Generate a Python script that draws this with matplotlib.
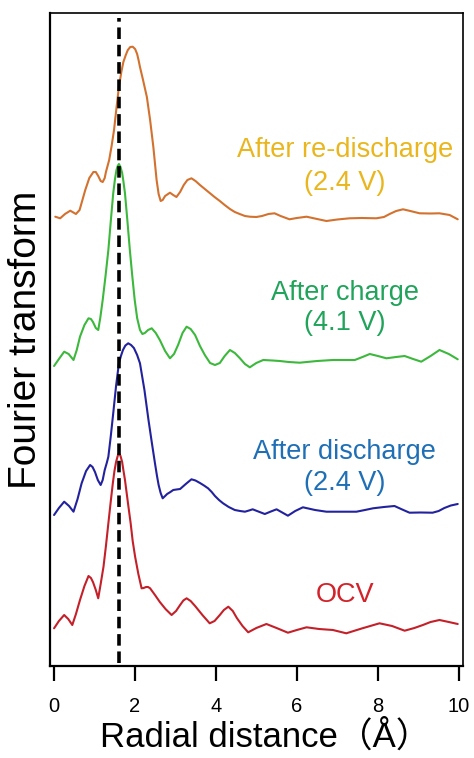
import matplotlib
matplotlib.use("Agg")
import matplotlib.pyplot as plt

plt.rcParams['font.family'] = ['Liberation Sans', 'Noto Sans CJK JP', 'DejaVu Sans']

# ---- data (r in Angstrom, intensity in arbitrary units incl. vertical offset) ----
r_redis = [0.04, 0.16, 0.28, 0.41, 0.55, 0.64, 0.78, 0.88, 0.98, 1.04, 1.10, 1.16, 1.21, 1.26,
           1.29, 1.33, 1.37, 1.43, 1.49, 1.55, 1.61, 1.67, 1.72, 1.78, 1.83, 1.89, 1.95, 2.01,
           2.06, 2.10, 2.13, 2.20, 2.30, 2.38, 2.46, 2.54, 2.59, 2.64, 2.69, 2.75, 2.87, 2.95,
           3.03, 3.12, 3.21, 3.30, 3.40, 3.50, 3.61, 3.73, 3.85, 3.97, 4.10, 4.22, 4.35, 4.47,
           4.59, 4.72, 4.84, 5.00, 5.14, 5.30, 5.45, 5.60, 5.82, 6.00, 6.24, 6.50, 6.73, 7.00,
           7.30, 7.60, 7.96, 8.15, 8.29, 8.45, 8.62, 8.80, 9.03, 9.30, 9.52, 9.77, 9.97]
y_redis = [449.3, 447.7, 452, 455.3, 452, 456, 476, 488, 494, 494, 490, 485, 484, 488,
           494, 500, 506, 520, 536, 558, 579, 594, 604, 611, 616, 619, 619.3, 617,
           612, 605, 599, 587, 569, 546, 519, 486, 472, 465, 466, 470, 473.3, 471,
           469, 474, 481, 486, 487.7, 485, 481, 477, 473, 469, 465, 461, 457, 454,
           452, 450, 449.3, 449, 450, 452, 452.7, 450, 446.7, 448, 449.3, 447, 445, 446.5,
           447.7, 448, 447.7, 449, 452, 455, 456.7, 455, 452.7, 452.5, 452.7, 451, 446.7]

r_charge = [0.01, 0.13, 0.26, 0.37, 0.49, 0.57, 0.65, 0.76, 0.86, 0.92, 0.97, 1.04, 1.10, 1.15,
            1.21, 1.28, 1.35, 1.41, 1.47, 1.51, 1.55, 1.58, 1.61, 1.65, 1.69, 1.72, 1.76, 1.82,
            1.88, 1.94, 2.00, 2.06, 2.13, 2.19, 2.25, 2.33, 2.42, 2.52, 2.62, 2.75, 2.87, 2.97,
            3.07, 3.18, 3.28, 3.38, 3.49, 3.61, 3.73, 3.86, 3.98, 4.10, 4.22, 4.35, 4.47, 4.59,
            4.72, 4.84, 5.00, 5.17, 5.40, 5.58, 5.80, 6.07, 6.50, 6.89, 7.20, 7.43, 7.62, 7.80,
            8.00, 8.21, 8.45, 8.66, 8.87, 9.07, 9.30, 9.52, 9.75, 9.97]
y_charge = [300, 307, 314.3, 312, 306, 316, 329.3, 341, 347.7, 347, 344, 338, 336, 348,
            366, 390, 416, 445, 472.7, 486, 496, 500, 502, 499, 493, 485, 472.7, 445,
            416, 390, 366, 348, 336, 332, 333, 336, 337.7, 333, 326, 315, 307.7, 312,
            321, 333, 339.3, 337, 331, 320, 311, 303, 301, 303, 310, 316, 313, 308,
            302, 298.7, 303, 306, 305.5, 305, 304, 303.3, 305, 306, 306, 306, 309, 312,
            310, 307.7, 309, 310, 307, 304.3, 310, 316, 312, 306.7]

r_dis = [0.01, 0.13, 0.26, 0.38, 0.49, 0.59, 0.69, 0.80, 0.90, 0.96, 1.02, 1.09, 1.16, 1.21,
         1.26, 1.31, 1.35, 1.41, 1.47, 1.54, 1.61, 1.66, 1.71, 1.77, 1.84, 1.91, 1.98, 2.06,
         2.13, 2.24, 2.34, 2.42, 2.50, 2.55, 2.59, 2.64, 2.69, 2.75, 2.80, 2.88, 2.95, 3.03,
         3.12, 3.26, 3.40, 3.50, 3.61, 3.71, 3.81, 3.90, 3.98, 4.08, 4.18, 4.32, 4.47, 4.60,
         4.72, 4.82, 4.91, 5.05, 5.21, 5.36, 5.50, 5.64, 5.78, 5.96, 6.15, 6.45, 6.73, 7.10,
         7.47, 7.68, 7.88, 8.15, 8.41, 8.60, 8.78, 9.05, 9.35, 9.50, 9.64, 9.80, 9.97]
y_dis = [151, 158, 164.3, 160, 154.3, 167, 182.7, 195, 201, 199, 194, 186, 181, 186,
         196, 203, 209.3, 230, 252.7, 280, 302.7, 310, 316, 320.5, 322.7, 321, 318, 311,
         302.7, 276, 246, 224, 202.7, 190, 181, 173, 167.7, 170, 172, 174, 176, 176.5,
         177, 182, 186.7, 185.5, 183, 180.5, 177.7, 174, 170, 166, 162.7, 159, 156, 155,
         154.3, 155.5, 156.7, 154.5, 152, 154.5, 156.7, 153.5, 150.3, 155, 158.7, 156, 154.3, 154.3,
         154.3, 156, 157.7, 159, 160, 156.5, 153.3, 153.5, 153.3, 155, 158, 160.5, 162]

r_ocv = [0.01, 0.13, 0.26, 0.36, 0.46, 0.55, 0.65, 0.76, 0.86, 0.92, 0.97, 1.04, 1.10, 1.16,
         1.23, 1.29, 1.35, 1.41, 1.46, 1.50, 1.54, 1.58, 1.61, 1.65, 1.69, 1.72, 1.76, 1.83,
         1.90, 1.95, 2.01, 2.09, 2.17, 2.22, 2.28, 2.33, 2.38, 2.50, 2.62, 2.76, 2.91, 3.02,
         3.12, 3.20, 3.28, 3.38, 3.49, 3.67, 3.85, 3.97, 4.10, 4.20, 4.31, 4.42, 4.52, 4.66,
         4.80, 5.00, 5.25, 5.50, 5.78, 6.00, 6.24, 6.55, 6.89, 7.22, 7.60, 8.04, 8.35, 8.66,
         8.90, 9.11, 9.30, 9.52, 9.75, 9.97]
y_ocv = [37.7, 45, 51, 47, 41, 52, 66, 80, 90, 88, 84, 76, 67.7, 82,
         99.3, 120, 142.7, 165, 182.7, 195, 204, 210, 212.7, 210, 204, 196, 186, 164,
         142.7, 125, 109.3, 92, 77.7, 78, 79, 79, 77.7, 71, 64, 57, 51, 55,
         61, 65.5, 67.7, 65, 60, 51, 42.7, 45, 51, 56, 59.3, 55, 48, 40,
         33.7, 38, 42, 38, 33.3, 36, 38.7, 37, 36, 32.7, 37.5, 42.7, 40, 35.3,
         38, 41, 44, 46, 44, 42]

ref_r = 1.61
xticks = [0, 2, 4, 6, 8, 10]
label_lines = [("After re-discharge", 516), ("(2.4 V)", 483),
               ("After charge", 373), ("(4.1 V)", 343),
               ("After discharge", 214), ("(2.4 V)", 183),
               ("OCV", 71)]
label_colors = ["#E9B61E", "#E9B61E", "#20A35A", "#20A35A", "#1E6FB6", "#1E6FB6", "#D2232A"]

fig = plt.figure(figsize=(4.74, 7.58), dpi=100)
ax = fig.add_axes([50/474, 1-666/758, 413/474, 653/758])

kw = dict(lw=1.5, solid_joinstyle="round", solid_capstyle="round")
ax.plot(r_redis, y_redis, color="#D3712F", **kw)
ax.plot(r_charge, y_charge, color="#3CB83C", **kw)
ax.plot(r_dis, y_dis, color="#22229E", **kw)
ax.plot(r_ocv, y_ocv, color="#C42029", **kw)

ax.plot([ref_r, ref_r], [3, 648], color="black", lw=2.6, dashes=(3.2, 1.6))

for (txt, yy), c in zip(label_lines, label_colors):
    ax.text(7.18, yy, txt, color=c, fontsize=19.5, ha="center", va="center")

ax.set_xlim(-0.09, 10.1)
ax.set_ylim(0, 653)
ax.set_xticks(xticks)
ax.set_xticklabels([str(t) for t in xticks], fontsize=14.5)
ax.set_yticks([])
ax.tick_params(axis="x", direction="out", length=11, width=1.6, pad=11)
for s in ax.spines.values():
    s.set_linewidth(1.2)
ax.spines["left"].set_linewidth(1.6)
ax.spines["bottom"].set_linewidth(1.6)

ax.set_xlabel("Radial distance（Å）", fontsize=25, labelpad=3)
ax.xaxis.label.set_x(0.52)
ax.set_ylabel("Fourier transform", fontsize=28, labelpad=4)

fig.savefig("out.png", dpi=100)
